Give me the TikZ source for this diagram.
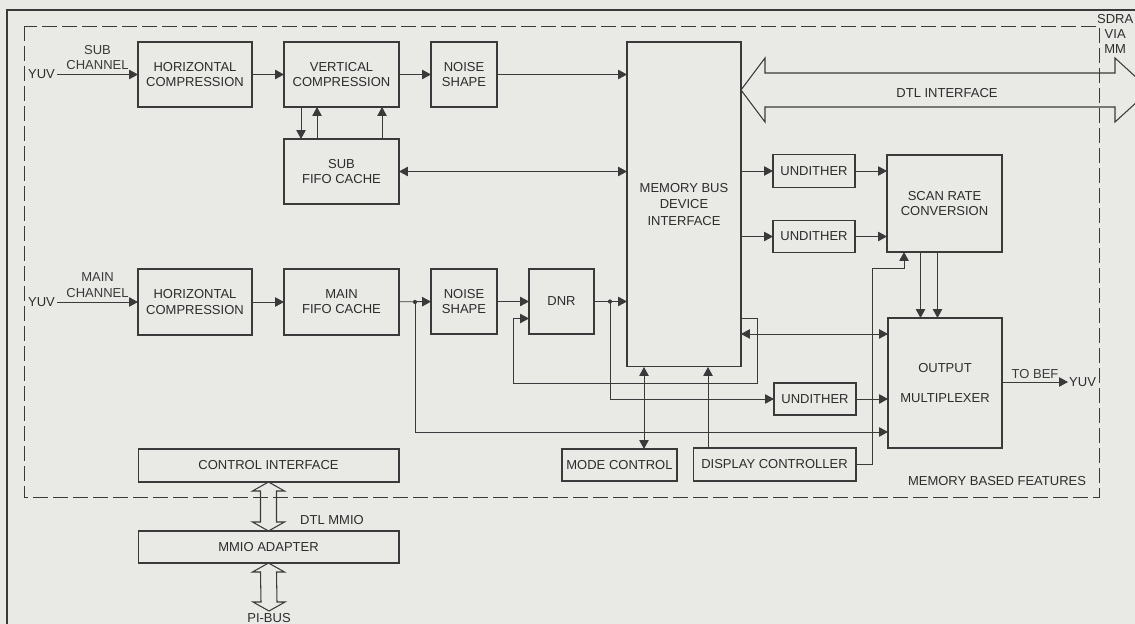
\documentclass[tikz,border=0pt]{standalone}
\usepackage{fontspec}
\setmainfont{Liberation Sans}
\usetikzlibrary{arrows.meta, calc}
\definecolor{trait}{HTML}{3A3A3A}
\definecolor{papier}{HTML}{E9E9E6}
\definecolor{texte}{HTML}{2C2C2C}

\begin{document}
\begin{tikzpicture}[
  x=0.02cm, y=-0.02cm,
  font=\fontsize{7.4}{8.6}\selectfont, text=texte,
  bloc/.style={draw=trait, line width=0.6pt, inner sep=0pt, outer sep=0pt, align=center},
  lbl/.style={inner sep=1pt, align=center},
  fl/.style={-{Triangle[length=1.8mm, width=1.9mm]}, trait, line width=0.5pt},
  fld/.style={{Triangle[length=1.8mm, width=1.9mm]}-{Triangle[length=1.8mm, width=1.9mm]}, trait, line width=0.5pt},
  bus/.style={draw=trait, line width=0.6pt, line join=miter},
  zone/.style={draw=trait, line width=0.5pt, dash pattern=on 0.3cm off 0.1cm},
]
\useasboundingbox (0,0) rectangle (1135,624);
\begin{scope}
\clip (0,0) rectangle (1135,624);
% fond, cadre et zone mémoire
\fill[papier] (0,0) rectangle (1135,624);
\draw[trait, line width=1.1pt] (7,624) -- (7,10) -- (1135,10);
\draw[zone] (24,26) rectangle (1099,497);
\node[lbl] (mbf) at (997,481) {MEMORY BASED FEATURES};
\node[lbl, anchor=north east, inner sep=0.5pt] (sdl) at (1134.5,13) {SDRA\\VIA\\MM};

% voie secondaire
\node[bloc, minimum width=2.28cm, minimum height=1.30cm] (hcs) at (195,74.5) {HORIZONTAL\\COMPRESSION};
\node[bloc, minimum width=2.30cm, minimum height=1.30cm] (vcs) at (341.5,74.5) {VERTICAL\\COMPRESSION};
\node[bloc, minimum width=1.32cm, minimum height=1.30cm] (nss) at (464,74.5) {NOISE\\SHAPE};
\node[bloc, minimum width=2.30cm, minimum height=1.30cm] (sfifo) at (341.5,171.5) {SUB\\FIFO CACHE};
% interface mémoire et sorties
\node[bloc, minimum width=2.28cm, minimum height=6.50cm] (mbdi) at (684,204.5) {MEMORY BUS\\[1pt]DEVICE\\[1pt]INTERFACE};
\node[bloc, minimum width=1.64cm, minimum height=0.65cm] (und1) at (814,171) {UNDITHER};
\node[bloc, minimum width=1.64cm, minimum height=0.65cm] (und2) at (814,236.5) {UNDITHER};
\node[bloc, minimum width=2.30cm, minimum height=1.94cm] (src) at (944.5,203.5) {SCAN RATE\\CONVERSION};
% voie principale
\node[bloc, minimum width=2.28cm, minimum height=1.32cm] (hcm) at (195,302) {HORIZONTAL\\COMPRESSION};
\node[bloc, minimum width=2.30cm, minimum height=1.32cm] (mfifo) at (341.5,302) {MAIN\\FIFO CACHE};
\node[bloc, minimum width=1.32cm, minimum height=1.30cm] (nsm) at (464,301.5) {NOISE\\SHAPE};
\node[bloc, minimum width=1.30cm, minimum height=1.30cm] (dnr) at (561.5,301.5) {DNR};
\node[bloc, minimum width=1.64cm, minimum height=0.64cm] (und3) at (815,399) {UNDITHER};
\node[bloc, minimum width=2.28cm, minimum height=2.60cm] (omux) at (945,383) {OUTPUT\\[9pt]MULTIPLEXER};
% commandes
\node[bloc, minimum width=2.30cm, minimum height=0.64cm] (modec) at (619.5,465) {MODE CONTROL};
\node[bloc, minimum width=3.26cm, minimum height=0.66cm] (dispc) at (774.5,464.5) {DISPLAY CONTROLLER};
\node[bloc, minimum width=5.22cm, minimum height=0.66cm] (ctrl) at (268.5,465.5) {CONTROL INTERFACE};
\node[bloc, minimum width=5.22cm, minimum height=0.64cm] (mmio) at (268.5,547) {MMIO ADAPTER};
% étiquettes
\node[lbl, anchor=east] (yuvs) at (57,74.5) {YUV};
\node[lbl, anchor=east] (yuvm) at (57,302) {YUV};
\node[lbl, anchor=west, inner xsep=0.5pt] (yuvo) at (1068,382) {YUV};
\node[lbl] (dtl) at (947,93) {DTL INTERFACE};
\node[lbl] (dtlm) at (332,520) {DTL MMIO};
\node[lbl, anchor=north] (pibus) at (269,611) {PI-BUS};

% flux voie secondaire
\draw[fl] (yuvs) -- (hcs) node[midway, above=1.5pt, lbl] {SUB\\CHANNEL};
\draw[fl] (hcs) -- (vcs);
\draw[fl] (vcs) -- (nss);
\draw[fl] (nss) -- (nss -| mbdi.west);
\coordinate (v1) at ($(vcs.south west)+(17,0)$);
\coordinate (v2) at ($(vcs.south west)+(33,0)$);
\coordinate (v3) at ($(vcs.south west)+(98,0)$);
\draw[fl] (v1) -- (v1 |- sfifo.north);
\draw[fl] (v2 |- sfifo.north) -- (v2);
\draw[fl] (v3 |- sfifo.north) -- (v3);
\draw[fld] (sfifo) -- (sfifo -| mbdi.west);
\draw[fl] (und1 -| mbdi.east) -- (und1);
\draw[fl] (und1) -- (und1 -| src.west);
\draw[fl] (und2 -| mbdi.east) -- (und2);
\draw[fl] (und2) -- (und2 -| src.west);
\coordinate (s1) at ($(src.south)+(-24,0)$);
\coordinate (s2) at ($(src.south)+(-7,0)$);
\draw[fl] (s1) -- (s1 |- omux.north);
\draw[fl] (s2) -- (s2 |- omux.north);

% flux voie principale
\draw[fl] (yuvm) -- (hcm) node[midway, above=1.5pt, lbl] {MAIN\\CHANNEL};
\draw[fl] (hcm) -- (mfifo);
\draw[fl] (mfifo) -- (nsm);
\draw[fl] (nsm) -- (dnr);
\draw[fl] (dnr) -- (dnr -| mbdi.west);
\coordinate (j1) at ($(mfifo.east)+(16,0)$);
\coordinate (j2) at ($(dnr.east)+(16,0)$);
\fill[trait] (j1) circle (1.2pt);
\fill[trait] (j2) circle (1.2pt);
\draw[fl] (j1) |- ($(omux.south west)+(0,-16)$);
\draw[fl] (j2) |- (und3);
\draw[fl] (und3) -- (und3 -| omux.west);
\coordinate (m1) at ($(mbdi.south east)+(0,-33)$);
\draw[fld] (m1) -- (m1 -| omux.west);
\coordinate (m2) at ($(mbdi.south east)+(0,-49)$);
\draw[fl] (m2) -| ($(mbdi.south east)+(16,16)$) -| ($(dnr.west)+(-16,17)$) -- ($(dnr.west)+(0,17)$);
\draw[fl] (omux.east |- yuvo) -- (yuvo) node[midway, above=0.5pt, lbl] {TO BEF};

% commandes
\coordinate (mc) at ($(modec.north)+(24.5,0)$);
\draw[fld] (mc) -- (mc |- mbdi.south);
\coordinate (dc) at ($(dispc.north)+(-66.5,0)$);
\draw[fl] (dc) -- (dc |- mbdi.south);
\draw[fl] (dispc.east) -- ++(16,0) |- ($(src.south)+(-40.5,16)$) -- ($(src.south)+(-40.5,0)$);

% bus
\coordinate (dA) at ($(mbdi.north east)+(0,48)$);
\coordinate (dB) at (1150,90);
\draw[bus] (dA) -- ++(24,-32) -- ++(0,15) -- ($(dB)+(-35,-17)$) -- ++(0,-15) -- (dB)
  -- ++(-35,32) -- ++(0,-15) -- ($(dA)+(24,17)$) -- ++(0,15) -- cycle;
\draw[bus] (ctrl.south) -- ++(-16,9) -- ++(8,0) -- ($(mmio.north)+(-8,-9)$) -- ++(-8,0) -- (mmio.north)
  -- ++(16,-9) -- ++(-8,0) -- ($(ctrl.south)+(8,9)$) -- ++(8,0) -- cycle;
\draw[bus] (mmio.south) -- ++(-16,9) -- ++(8,0) -- ($(pibus.north)+(-8,-9)$) -- ++(-8,0) -- (pibus.north)
  -- ++(16,-9) -- ++(-8,0) -- ($(mmio.south)+(8,9)$) -- ++(8,0) -- cycle;
\end{scope}
\end{tikzpicture}
\end{document}
